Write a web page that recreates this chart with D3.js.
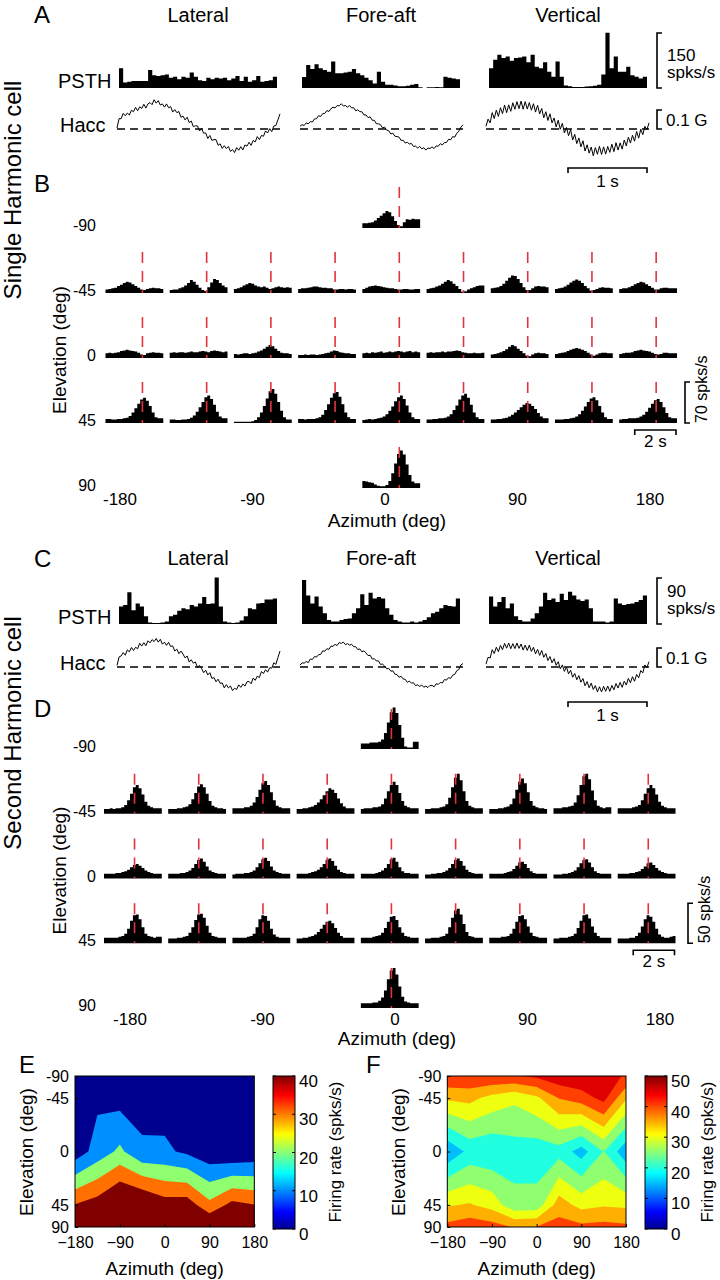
<!DOCTYPE html>
<html>
<head>
<meta charset="utf-8">
<script src="https://cdn.jsdelivr.net/npm/d3@7/dist/d3.min.js"></script>
<style>
  body { margin: 0; background: #fff; }
  svg text { font-family: "Liberation Sans", Arial, sans-serif; fill: #000; }
</style>
</head>
<body>
<script>
// ---------------- data ----------------
var motionDirs = ["Lateral", "Fore-aft", "Vertical"];
var elevations = [-90, -45, 0, 45, 90];
var azimuths = [-180, -135, -90, -45, 0, 45, 90, 135, 180];
var azTickLabels = [-180, -90, 0, 90, 180];

// PSTH (spks/s) for the three translation axes, single harmonic cell (A)
var psthSingle = [
  [54,15,17,19,19,19,19,49,35,33,35,37,28,31,24,31,28,42,31,21,19,28,24,28,26,28,21,26,33,19,31,17,21,33,17,19,21,31],
  [30,63,52,65,54,49,44,72,40,40,42,44,52,40,35,28,21,12,44,17,9,9,7,5,5,6,9,11,2,0,2,2,3,2,31,28,26,24],
  [54,77,91,82,86,74,82,83,86,70,91,58,54,70,44,31,72,31,7,5,3,3,3,4,5,6,9,37,151,54,86,44,44,58,35,31,26,31]
];
// head acceleration (mG)
var haccSingleLat = [5,55,54,82,70,84,74,99,91,114,96,117,108,130,110,132,139,128,154,136,149,126,132,115,132,112,118,89,102,86,92,62,68,48,62,34,42,12,17,16,-10,2,-22,-21,-50,-34,-60,-56,-56,-86,-78,-102,-88,-103,-92,-118,-108,-124,-98,-112,-93,-110,-84,-90,-70,-86,-60,-68,-40,-56,-34,-38,-10,-21,2,-14,16,18,48,80];
var haccSingleFore = [14,23,18,32,27,39,37,53,54,70,66,81,82,97,92,107,115,111,123,122,133,121,124,115,124,111,112,96,101,91,91,74,74,60,64,46,46,28,27,23,6,10,-6,-9,-26,-22,-38,-40,-43,-60,-59,-74,-70,-79,-76,-92,-90,-100,-92,-104,-99,-111,-100,-103,-94,-103,-89,-91,-77,-84,-71,-71,-54,-57,-40,-43,-22,-11,10,22];
var haccSingleVert = [14,52,32,86,55,99,66,112,81,126,86,127,93,138,104,144,107,147,104,144,105,139,99,133,89,125,80,108,59,91,45,80,32,58,11,46,-1,30,-21,8,-35,-3,-58,-28,-77,-47,-94,-62,-116,-83,-127,-95,-141,-98,-133,-91,-134,-94,-132,-92,-123,-80,-119,-72,-111,-73,-106,-58,-89,-43,-74,-33,-64,-13,-48,-1,-30,14,-4,32];
// second harmonic cell (C)
var psthSecond = [
  [34,37,62,27,40,34,15,3,2,2,3,5,15,18,26,31,29,37,34,40,53,39,40,91,34,5,3,2,3,7,15,31,29,40,41,48,48,50],
  [86,56,40,54,34,21,8,5,5,8,10,11,21,31,58,37,61,50,53,50,31,18,8,5,3,3,5,3,5,8,13,21,24,31,37,35,34,50],
  [54,34,43,53,31,40,15,8,5,5,11,21,34,61,47,50,43,59,47,63,56,48,45,48,31,5,5,5,3,5,50,40,37,39,40,43,47,56]
];
var haccSecondLat = [8,53,58,76,62,90,80,103,87,104,96,125,110,128,112,138,127,144,134,150,131,146,120,131,114,130,108,111,84,94,70,84,68,48,58,26,38,20,27,-2,8,-8,-30,-17,-42,-30,-60,-56,-78,-64,-86,-84,-110,-93,-110,-100,-124,-112,-118,-94,-107,-90,-100,-78,-76,-88,-58,-70,-48,-56,-24,-34,-14,-27,-4,-6,22,14,50,84];
var haccSecondFore = [10,22,20,29,23,42,40,55,52,65,66,85,83,96,93,110,109,119,113,129,124,131,118,123,115,120,107,107,92,95,80,85,74,60,62,42,44,32,32,14,15,5,-10,-7,-22,-20,-38,-40,-54,-49,-63,-65,-81,-74,-85,-83,-98,-94,-102,-95,-106,-101,-108,-97,-97,-104,-88,-92,-81,-84,-66,-69,-56,-60,-43,-39,-19,-13,11,18];
var haccSecondVert = [16,51,47,91,71,104,81,114,91,124,99,126,96,123,97,126,98,121,89,115,87,115,82,104,69,93,61,87,51,71,34,55,22,44,9,28,-10,11,-23,0,-36,-17,-54,-34,-67,-45,-80,-61,-99,-77,-109,-85,-118,-98,-131,-104,-131,-102,-128,-100,-128,-97,-120,-87,-111,-81,-107,-75,-95,-60,-83,-51,-75,-39,-57,-19,-31,11,-3,28];

// 3D tuning PSTHs (spks/s), panel B
var singleElUp = [[8,8,9,10,13,17,21,25,29,27,20,12,5,3,10,15,14,16,15,15]];
var singleElM45 = [
  [6,7,8,9,12,14,17,19,18,15,12,9,6,5,7,8,9,8,8,7],
  [5,6,6,8,10,13,17,22,19,14,9,5,3,10,18,24,22,17,13,10],
  [7,8,10,13,15,17,16,13,11,10,11,9,7,8,10,11,10,9,10,9],
  [7,8,8,9,10,11,11,10,9,9,8,8,6,6,7,7,6,7,7,6],
  [7,9,11,12,13,12,11,10,9,8,8,7,6,6,7,7,6,6,7,7],
  [7,8,9,11,13,16,19,22,20,16,12,7,2,3,6,8,10,12,13,13],
  [8,9,10,12,16,21,26,30,29,24,17,10,5,5,8,11,12,11,11,10],
  [7,8,9,11,14,18,21,23,21,17,12,8,4,5,7,9,10,9,9,8],
  [7,8,8,10,12,15,17,19,18,15,12,9,6,6,8,9,9,8,8,8]
];
var singleEl0 = [
  [8,9,8,9,10,12,13,14,13,12,11,9,6,5,8,9,10,9,9,8],
  [9,10,9,10,10,9,10,11,10,10,11,12,11,10,12,13,12,11,10,11],
  [7,6,7,8,8,7,8,9,11,13,16,19,22,20,16,12,9,8,8,7],
  [5,5,6,5,6,6,5,6,7,8,9,11,13,12,10,9,8,8,7,7],
  [8,9,8,10,9,10,11,9,10,11,10,11,12,11,10,11,12,10,11,10],
  [9,10,9,10,10,11,10,11,11,12,13,12,10,9,8,8,9,8,8,9],
  [6,7,8,10,12,15,19,22,20,16,12,8,4,3,6,8,9,8,8,7],
  [7,8,9,10,12,14,16,17,16,14,12,9,6,4,6,8,9,9,8,8],
  [7,8,9,9,10,12,13,14,13,12,11,9,7,6,7,9,9,8,8,8]
];
var singleElP45 = [
  [7,7,6,6,7,7,8,9,12,18,25,33,40,43,38,29,18,10,8,8],
  [6,6,5,5,6,6,7,9,13,19,27,36,44,47,41,31,19,11,8,8],
  [2,2,2,2,2,2,3,5,10,18,29,42,54,58,50,36,21,10,6,6],
  [7,7,6,7,7,7,8,10,14,22,32,43,51,53,45,32,18,10,7,7],
  [5,6,7,6,7,8,9,11,15,21,28,37,44,47,41,30,18,10,7,7],
  [6,6,7,7,8,8,9,11,15,22,30,40,47,50,43,31,18,10,7,7],
  [6,6,7,7,8,9,11,14,18,22,27,31,34,33,29,24,17,11,8,8],
  [6,6,6,7,7,8,9,11,15,21,28,36,42,44,39,29,18,10,7,7],
  [6,7,7,8,8,8,9,11,14,19,26,33,39,41,36,27,17,10,8,8]
];
var singleElDown = [[12,11,10,9,6,4,3,3,5,12,25,42,58,64,57,40,22,11,8,8]];

// panel D
var secondElUp = [[7,7,7,8,8,8,9,12,20,33,46,52,45,30,14,3,2,2,9,9]];
var secondElM45 = [
  [6,6,7,6,7,7,8,11,17,25,33,36,32,24,15,10,8,7,7,7],
  [6,6,6,7,7,8,9,12,18,26,34,37,33,25,16,10,8,7,7,6],
  [7,7,7,7,8,8,10,14,21,30,38,41,36,27,17,10,8,7,7,7],
  [6,6,7,7,8,9,11,14,18,23,28,32,30,26,19,13,9,7,7,7],
  [6,7,7,7,8,8,9,12,19,28,36,40,36,26,16,10,8,7,7,7],
  [6,6,7,7,7,8,9,12,20,33,45,50,42,28,16,10,8,7,7,7],
  [6,6,6,7,7,8,9,12,19,30,40,44,38,27,16,10,8,7,7,6],
  [7,7,7,8,8,9,10,14,23,36,47,50,43,29,17,10,8,7,8,8],
  [7,7,7,7,7,8,9,11,17,25,32,36,32,24,15,10,8,7,7,7]
];
var secondEl0 = [
  [6,6,6,6,7,7,8,9,11,14,17,18,16,13,10,8,7,6,6,6],
  [6,6,6,6,7,7,8,10,13,18,23,25,21,15,10,8,7,6,6,6],
  [5,6,6,6,7,7,8,10,14,19,24,26,22,15,10,8,7,6,6,6],
  [6,6,6,6,7,8,9,11,14,18,23,25,22,16,11,8,7,6,6,6],
  [6,6,6,6,6,7,8,10,13,18,24,26,21,14,9,7,7,6,6,6],
  [5,5,6,6,7,7,8,10,13,18,23,25,22,16,11,8,7,6,6,6],
  [6,6,6,6,6,7,8,9,12,16,20,21,18,13,9,7,6,6,6,6],
  [5,5,5,6,6,7,8,10,14,19,23,24,20,14,9,7,6,6,6,6],
  [6,6,6,6,7,7,8,9,12,15,19,20,17,13,10,8,7,6,6,6]
];
var secondElP45 = [
  [7,7,7,7,7,8,9,12,18,28,35,36,30,20,12,9,8,7,8,8],
  [6,6,6,7,7,8,9,13,20,29,36,37,32,22,13,9,8,7,7,7],
  [7,7,7,7,7,8,9,12,20,30,35,34,28,18,11,8,7,7,7,7],
  [6,6,7,7,8,9,11,14,18,23,27,28,25,19,13,9,7,7,7,7],
  [7,7,7,7,8,9,10,13,19,27,33,34,29,20,13,9,8,7,7,7],
  [6,6,7,7,7,8,9,12,20,32,41,43,36,24,14,9,8,7,7,7],
  [7,7,7,7,8,8,9,12,18,27,34,35,30,21,13,9,8,7,7,7],
  [6,6,7,7,7,8,9,12,19,28,35,36,31,21,13,9,7,7,7,7],
  [6,6,6,6,7,7,9,13,21,30,35,33,27,18,11,8,7,7,8,9]
];
var secondElDown = [[6,6,6,6,7,7,9,13,22,36,47,50,42,27,14,8,7,6,6,6]];

// red line time (s) inside each 2.8 s PSTH
var redTimeSingle = 1.79;
var redTimeSecond = 1.48;

// firing-rate maps (rows: elevation -90..90, cols: azimuth -180..180)
var rateSingle = [
  [2,2,2,2,2,2,2,2,2],
  [3,8.1,6.2,6.4,5.7,4,2,1.5,2],
  [4,14.1,22.1,11.6,11.8,8.1,2.8,1,2.5],
  [40.5,44.9,54,51.6,44.8,45.6,32.8,43,40.3],
  [52,52,52,52,52,52,52,52,52]
];
var rateSecond = [
  [44.5,44.5,44.5,44.5,46,48.3,49.4,47,44.5],
  [35.8,36.5,33.3,31.1,34,40.2,42.5,46.6,35.6],
  [15.8,21.5,20.8,22.6,22,23,17.8,25.2,16.5],
  [34.5,35.5,33,26.6,27,37.6,33.3,34.5,34],
  [41.5,43.3,42.2,39.6,40.2,42,41.3,41.7,41]
];
var levelsSingle = [10, 20, 30, 40];
var levelsSecond = [15, 20, 25, 30, 35, 40, 45];

// ---------------- drawing ----------------
var svg = d3.select("body").append("svg").attr("width", 720).attr("height", 1280);
var defs = svg.append("defs");
var smallDur = 2.8, psthDur = 2;

function label(x, y, s, size, anchor, rot) {
  var t = svg.append("text").attr("x", x).attr("y", y).attr("font-size", size)
    .attr("text-anchor", anchor || "start").text(s);
  if (rot) t.attr("transform", "rotate(" + rot + "," + x + "," + y + ")");
  return t;
}
function bracket(x, y0, y1) {
  svg.append("path").attr("d", "M" + (x + 5) + "," + y0 + "H" + x + "V" + y1 + "H" + (x + 5))
    .attr("fill", "none").attr("stroke", "#000").attr("stroke-width", 1.6);
}
function timeBar(x0, x1, y) {
  svg.append("path").attr("d", "M" + x0 + "," + (y + 5) + "V" + y + "H" + x1 + "V" + (y + 5))
    .attr("fill", "none").attr("stroke", "#000").attr("stroke-width", 1.6);
}
function histPath(h, x, y, base) {
  var area = d3.area().curve(d3.curveStepAfter)
    .x(function(d, i) { return x(i); }).y0(base).y1(function(d) { return y(d); });
  svg.append("path").datum(h.concat([h[h.length - 1]])).attr("d", area).attr("fill", "#000");
}

var psthCols = [[119, 277], [302, 460], [489, 647]];
var haccCols = [[117, 280], [300, 463], [486, 649]];

function motionPanel(p) {
  label(34, p.letterY, p.letter, 24);
  motionDirs.forEach(function(name, k) {
    label((psthCols[k][0] + psthCols[k][1]) / 2, p.titleY, name, 20, "middle");
    var h = p.psth[k];
    var x = d3.scaleLinear().domain([0, h.length]).range(psthCols[k]);
    var y = d3.scaleLinear().domain([0, p.rateMax]).range([p.base, p.base - p.ratePx]);
    histPath(h, x, y, p.base);
    var a = p.hacc[k];
    var xa = d3.scaleLinear().domain([0, a.length - 1]).range(haccCols[k]);
    var ya = d3.scaleLinear().domain([0, 100]).range([p.haccY, p.haccY - 19]);
    svg.append("line").attr("x1", xa(0)).attr("x2", xa(a.length - 1))
      .attr("y1", ya(0)).attr("y2", ya(0)).attr("stroke", "#000")
      .attr("stroke-width", 1.6).attr("stroke-dasharray", "8,5");
    svg.append("path").datum(a)
      .attr("d", d3.line().x(function(d, i) { return xa(i); }).y(function(d) { return ya(d); }))
      .attr("fill", "none").attr("stroke", "#000").attr("stroke-width", 1);
  });
  label(58, p.base, "PSTH", 20);
  label(60, p.haccY + 3, "Hacc", 20);
  bracket(657, p.base - p.ratePx, p.base);
  label(667, p.base - 27, p.rateMax, 17);
  label(667, p.base - 10, "spks/s", 17);
  bracket(657, p.haccY - 19, p.haccY);
  label(666, p.haccY - 3, "0.1 G", 17);
  var t = d3.scaleLinear().domain([0, psthDur]).range(psthCols[2]);
  timeBar(t(psthDur - 1), t(psthDur), p.barY);
  label((t(psthDur - 1) + t(psthDur)) / 2, p.barY + 19, "1 s", 17, "middle");
}

function gridPanel(p) {
  label(34, p.letterY, p.letter, 24);
  var cols = d3.scaleBand().domain(azimuths).range(p.xRange).paddingInner(0.1);
  var rows = d3.scalePoint().domain(elevations).range(p.yRange);
  var bw = cols.bandwidth();
  p.rows.forEach(function(r, ri) {
    var el = elevations[ri], base = rows(el);
    var y = d3.scaleLinear().domain([0, p.rateMax]).range([base, base - p.ratePx]);
    var azs = r.length === 1 ? [0] : azimuths;
    r.forEach(function(h, ci) {
      var x0 = cols(azs[ci]);
      var x = d3.scaleLinear().domain([0, h.length]).range([x0, x0 + bw]);
      var tx = d3.scaleLinear().domain([0, smallDur]).range([x0, x0 + bw]);
      histPath(h, x, y, base);
      svg.append("line").attr("x1", tx(p.redT)).attr("x2", tx(p.redT))
        .attr("y1", y(p.rateMax)).attr("y2", y(0))
        .attr("stroke", "#e0353f").attr("stroke-width", 1.6).attr("stroke-dasharray", "11,8");
    });
    label(96, base + 3, el, 16, "end");
  });
  var az = d3.scaleLinear().domain([-180, 180]).range(p.labelRange);
  azTickLabels.forEach(function(a) { label(az(a), p.tickY, a, 17, "middle"); });
  label(az(0) + 2, p.titleY, "Azimuth (deg)", 19, "middle");
  label(66, rows(0) - 8, "Elevation (deg)", 19, "middle", -90);
  var b45 = rows(45);
  bracket(p.barX, b45 - p.ratePx, b45);
  label(p.barX + 22, b45, p.rateMax + " spks/s", 16, "start", -90);
  var right = cols(180) + bw;
  var t8 = d3.scaleLinear().domain([0, smallDur]).range([cols(180), right]);
  timeBar(t8(smallDur - 2) - 1, right - 1, b45 + 7);
  label((t8(smallDur - 2) + right) / 2 - 1, b45 + 24, "2 s", 17, "middle");
}

// MATLAB jet(64)
function jetU(k) { return (k < 1 || k > 47) ? 0 : k <= 16 ? k / 16 : k <= 31 ? 1 : (48 - k) / 16; }
function jet64(i) {
  var r = i >= 25 ? jetU(i - 24) : 0;
  var g = (i >= 9 && i <= 55) ? jetU(i - 8) : 0;
  var b = (i + 8 <= 47) ? jetU(i + 8) : 0;
  return d3.rgb(r * 255, g * 255, b * 255).toString();
}
function levelColor(v, cmax) { return jet64(Math.max(1, Math.min(64, Math.floor(v / cmax * 64) + 1))); }

function mapPanel(p) {
  label(p.letterX, 1073, p.letter, 24);
  var xs = d3.scaleLinear().domain([-180, 180]).range([p.x0, p.x1]);
  var ys = d3.scaleLinear().domain([-1, 1]).range([1076, 1227]);
  var sinEl = elevations.map(function(e) { return Math.sin(e * Math.PI / 180); });
  var rowY = d3.scaleLinear().domain(d3.range(5)).range(sinEl.map(ys));
  var colX = d3.scaleLinear().domain([0, azimuths.length - 1]).range([p.x0, p.x1]);
  var flat = [].concat.apply([], p.rate);
  var contours = d3.contours().size([azimuths.length, elevations.length]).thresholds(p.levels)(flat);
  var proj = d3.geoTransform({ point: function(u, v) {
    this.stream.point(colX(Math.max(0, Math.min(8, u - 0.5))), rowY(Math.max(0, Math.min(4, v - 0.5))));
  }});
  var path = d3.geoPath(proj);
  var step = p.levels[1] - p.levels[0];
  svg.append("rect").attr("x", p.x0).attr("y", 1076).attr("width", p.x1 - p.x0).attr("height", 151)
    .attr("fill", levelColor(p.levels[0] - step, p.cmax));
  svg.append("g").selectAll("path").data(contours).join("path")
    .attr("d", path).attr("fill", function(d) { return levelColor(d.value, p.cmax); });
  svg.append("rect").attr("x", p.x0).attr("y", 1076).attr("width", p.x1 - p.x0).attr("height", 151)
    .attr("fill", "none").attr("stroke", "#000").attr("stroke-width", 1);

  var ax = svg.append("g").attr("transform", "translate(0,1227)")
    .call(d3.axisBottom(xs).tickValues(azTickLabels).tickSizeInner(-3).tickSizeOuter(0).tickPadding(10));
  var ay = svg.append("g").attr("transform", "translate(" + p.x0 + ",0)")
    .call(d3.axisLeft(ys).tickValues(sinEl).tickFormat(function(d, i) { return elevations[i]; })
      .tickSizeInner(-3).tickSizeOuter(0).tickPadding(6));
  [ax, ay].forEach(function(a) {
    a.attr("font-family", null).attr("font-size", 16);
    a.select(".domain").remove();
    a.selectAll("line").attr("stroke", "#000");
  });
  label((p.x0 + p.x1) / 2, 1275, "Azimuth (deg)", 19, "middle");
  label(p.x0 - 42, 1152, "Elevation (deg)", 19, "middle", -90);

  // colorbar
  var id = "grad" + p.letter;
  var grad = defs.append("linearGradient").attr("id", id)
    .attr("x1", 0).attr("y1", 1).attr("x2", 0).attr("y2", 0);
  d3.range(1, 65).forEach(function(i) {
    grad.append("stop").attr("offset", (i - 1) / 63).attr("stop-color", jet64(i));
  });
  var cs = d3.scaleLinear().domain([0, p.cmax]).range([1229, 1076]);
  svg.append("rect").attr("x", p.cb).attr("y", 1076).attr("width", 22).attr("height", 153)
    .attr("fill", "url(#" + id + ")").attr("stroke", "#000").attr("stroke-width", 1);
  d3.range(0, p.cmax + 1, 10).forEach(function(v) {
    svg.append("line").attr("x1", p.cb + 19).attr("x2", p.cb + 22).attr("y1", cs(v)).attr("y2", cs(v)).attr("stroke", "#000");
    svg.append("line").attr("x1", p.cb).attr("x2", p.cb + 3).attr("y1", cs(v)).attr("y2", cs(v)).attr("stroke", "#000");
    label(p.cb + 26, cs(v) + 11, v, 17);
  });
  label(p.cb + 68, 1152, "Firing rate (spks/s)", 17, "middle", -90);
}

// ---------------- panels ----------------
motionPanel({ letter: "A", letterY: 23, titleY: 22, psth: psthSingle,
  hacc: [haccSingleLat, haccSingleFore, haccSingleVert],
  base: 88, rateMax: 150, ratePx: 55, haccY: 129, barY: 168 });
gridPanel({ letter: "B", letterY: 192, rows: [singleElUp, singleElM45, singleEl0, singleElP45, singleElDown],
  xRange: [105.5, 677], yRange: [228, 488], rateMax: 70, ratePx: 41, redT: redTimeSingle,
  labelRange: [120, 650], tickY: 505, titleY: 527, barX: 685 });
motionPanel({ letter: "C", letterY: 567, titleY: 565, psth: psthSecond,
  hacc: [haccSecondLat, haccSecondFore, haccSecondVert],
  base: 624, rateMax: 90, ratePx: 46, haccY: 667, barY: 702 });
gridPanel({ letter: "D", letterY: 717, rows: [secondElUp, secondElM45, secondEl0, secondElP45, secondElDown],
  xRange: [104, 675.5], yRange: [749, 1008], rateMax: 50, ratePx: 40, redT: redTimeSecond,
  labelRange: [130, 660], tickY: 1025, titleY: 1045, barX: 688 });
mapPanel({ letter: "E", letterX: 19, x0: 75, x1: 254.3, rate: rateSingle, levels: levelsSingle, cmax: 40, cb: 273 });
mapPanel({ letter: "F", letterX: 366, x0: 447.3, x1: 626, rate: rateSecond, levels: levelsSecond, cmax: 50, cb: 645 });

label(21, 190, "Single Harmonic cell", 24, "middle", -90);
label(21, 733, "Second Harmonic cell", 24, "middle", -90);
</script>
</body>
</html>
